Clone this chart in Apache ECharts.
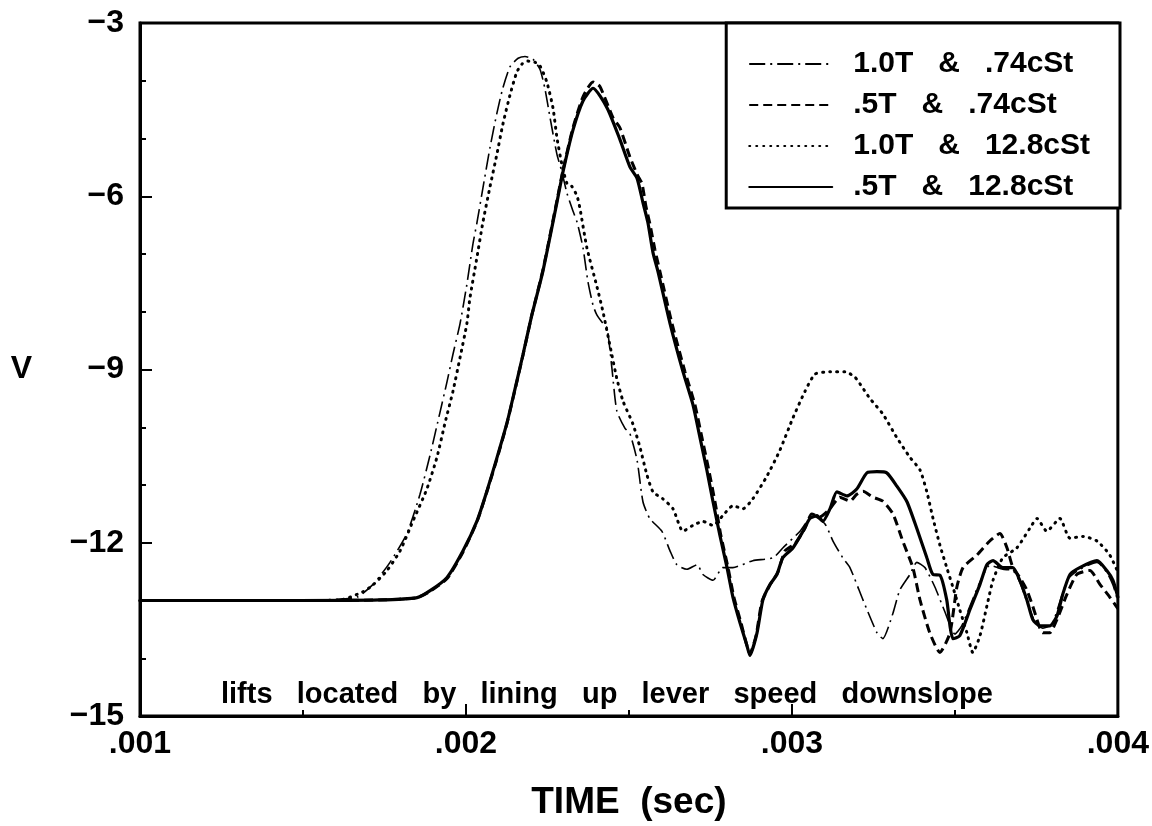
<!DOCTYPE html>
<html>
<head>
<meta charset="utf-8">
<script src="https://cdn.jsdelivr.net/npm/echarts@6/dist/echarts.min.js"></script>
<style>
html,body{margin:0;padding:0;background:#fff;}
#chart{width:1152px;height:826px;}
</style>
</head>
<body>
<div id="chart"></div>
<script>
// ---- data (time in seconds, V) ----
const seriesNames = ['1.0T   &   .74cSt', '.5T   &   .74cSt', '1.0T   &   12.8cSt', '.5T   &   12.8cSt'];

const timeA = [0.001000,0.001491,0.001583,0.001666,0.001715,0.001767,0.001819,0.001859,0.001890,0.001920,0.001942,0.001960,0.001982,0.002003,0.002021,0.002034,0.002052,0.002074,0.002095,0.002113,0.002135,0.002160,0.002181,0.002206,0.002227,0.002242,0.002258,0.002279,0.002294,0.002310,0.002328,0.002341,0.002359,0.002374,0.002390,0.002402,0.002420,0.002433,0.002448,0.002463,0.002488,0.002503,0.002525,0.002543,0.002564,0.002601,0.002626,0.002647,0.002678,0.002709,0.002727,0.002758,0.002788,0.002819,0.002880,0.002942,0.002972,0.003025,0.003064,0.003101,0.003126,0.003156,0.003178,0.003218,0.003261,0.003279,0.003310,0.003331,0.003362,0.003383,0.003408,0.003439,0.003469,0.003500,0.003521,0.003546,0.003577,0.003607,0.003647,0.003678,0.003699,0.003721,0.003745,0.003770,0.003798,0.003822,0.003847,0.003883,0.003936,0.003966,0.003985,0.004000];
const voltA = [-13.00,-13.00,-12.99,-12.94,-12.72,-12.34,-11.84,-11.16,-10.48,-9.75,-9.21,-8.74,-8.20,-7.52,-6.84,-6.45,-5.86,-5.15,-4.56,-4.13,-3.76,-3.61,-3.58,-3.63,-3.80,-4.13,-4.64,-5.27,-5.57,-5.95,-6.25,-6.45,-6.89,-7.47,-7.89,-8.06,-8.20,-8.28,-8.99,-9.72,-10.02,-10.11,-10.57,-11.29,-11.58,-11.80,-12.14,-12.38,-12.46,-12.38,-12.55,-12.65,-12.43,-12.43,-12.31,-12.26,-12.09,-11.80,-11.53,-11.67,-11.97,-12.26,-12.43,-12.99,-13.56,-13.66,-13.22,-12.82,-12.55,-12.34,-12.43,-12.77,-13.19,-13.58,-13.44,-13.10,-12.68,-12.39,-12.46,-12.48,-12.68,-13.02,-13.36,-13.48,-13.41,-13.02,-12.63,-12.46,-12.34,-12.51,-12.73,-13.02];

const timeB = [0.001000,0.001491,0.001736,0.001850,0.001890,0.001942,0.001991,0.002034,0.002064,0.002095,0.002126,0.002150,0.002175,0.002202,0.002236,0.002279,0.002298,0.002328,0.002359,0.002390,0.002411,0.002451,0.002472,0.002503,0.002525,0.002540,0.002552,0.002564,0.002580,0.002595,0.002632,0.002672,0.002702,0.002724,0.002745,0.002764,0.002782,0.002804,0.002822,0.002844,0.002862,0.002871,0.002890,0.002908,0.002933,0.002957,0.002979,0.003009,0.003040,0.003061,0.003086,0.003117,0.003147,0.003178,0.003199,0.003218,0.003248,0.003279,0.003310,0.003340,0.003371,0.003393,0.003423,0.003454,0.003485,0.003506,0.003525,0.003568,0.003607,0.003638,0.003660,0.003678,0.003699,0.003721,0.003739,0.003770,0.003791,0.003813,0.003844,0.003874,0.003914,0.003945,0.003975,0.004000];
const voltB = [-13.00,-13.00,-12.99,-12.95,-12.84,-12.62,-12.16,-11.63,-11.12,-10.55,-9.93,-9.36,-8.75,-8.06,-7.28,-6.08,-5.54,-4.82,-4.28,-4.02,-4.10,-4.64,-4.81,-5.32,-5.62,-5.78,-6.17,-6.47,-6.93,-7.30,-8.20,-9.04,-9.60,-10.18,-10.74,-11.29,-11.87,-12.43,-12.94,-13.39,-13.78,-13.92,-13.61,-13.02,-12.73,-12.51,-12.14,-12.02,-11.75,-11.50,-11.55,-11.41,-11.21,-11.28,-11.16,-11.11,-11.21,-11.28,-11.50,-11.97,-12.43,-12.99,-13.56,-13.90,-13.56,-12.77,-12.43,-12.21,-11.97,-11.84,-12.09,-12.43,-12.60,-12.82,-13.10,-13.56,-13.56,-13.33,-12.89,-12.55,-12.48,-12.72,-12.94,-13.14];

const timeC = [0.001000,0.001491,0.001614,0.001684,0.001715,0.001758,0.001798,0.001837,0.001880,0.001911,0.001936,0.001960,0.001982,0.002003,0.002012,0.002034,0.002052,0.002074,0.002095,0.002113,0.002135,0.002156,0.002172,0.002190,0.002212,0.002227,0.002248,0.002267,0.002279,0.002294,0.002310,0.002325,0.002341,0.002350,0.002371,0.002402,0.002420,0.002442,0.002463,0.002482,0.002512,0.002534,0.002555,0.002574,0.002604,0.002635,0.002666,0.002696,0.002727,0.002758,0.002788,0.002819,0.002850,0.002880,0.002923,0.002963,0.003003,0.003040,0.003071,0.003117,0.003163,0.003193,0.003215,0.003239,0.003279,0.003322,0.003362,0.003393,0.003414,0.003433,0.003454,0.003475,0.003494,0.003515,0.003537,0.003555,0.003577,0.003598,0.003617,0.003647,0.003690,0.003730,0.003752,0.003782,0.003822,0.003853,0.003893,0.003936,0.003975,0.004000];
const voltC = [-13.00,-13.00,-12.99,-12.85,-12.73,-12.48,-12.14,-11.63,-11.07,-10.52,-9.92,-9.38,-8.79,-8.20,-7.77,-7.05,-6.45,-5.83,-5.27,-4.76,-4.25,-3.85,-3.71,-3.66,-3.68,-3.74,-4.02,-4.47,-4.98,-5.44,-5.78,-5.83,-6.00,-6.22,-6.89,-7.57,-7.99,-8.59,-9.16,-9.55,-9.94,-10.35,-10.82,-11.12,-11.24,-11.41,-11.80,-11.70,-11.63,-11.70,-11.53,-11.36,-11.41,-11.24,-10.85,-10.40,-9.84,-9.38,-9.08,-9.04,-9.04,-9.13,-9.30,-9.50,-9.77,-10.18,-10.52,-10.74,-11.12,-11.58,-12.04,-12.43,-12.77,-13.16,-13.56,-13.90,-13.61,-13.10,-12.65,-12.26,-12.09,-11.75,-11.58,-11.80,-11.58,-11.92,-11.89,-11.97,-12.21,-12.51];

const timeD = [0.001000,0.001491,0.001736,0.001850,0.001890,0.001942,0.001991,0.002034,0.002064,0.002095,0.002126,0.002150,0.002175,0.002202,0.002236,0.002279,0.002298,0.002328,0.002359,0.002390,0.002433,0.002472,0.002503,0.002525,0.002543,0.002558,0.002574,0.002589,0.002626,0.002666,0.002696,0.002718,0.002739,0.002758,0.002779,0.002801,0.002819,0.002841,0.002862,0.002871,0.002893,0.002911,0.002933,0.002954,0.002972,0.003003,0.003034,0.003055,0.003077,0.003095,0.003117,0.003138,0.003169,0.003199,0.003230,0.003261,0.003291,0.003322,0.003353,0.003383,0.003414,0.003433,0.003454,0.003475,0.003485,0.003494,0.003515,0.003546,0.003577,0.003598,0.003617,0.003647,0.003678,0.003699,0.003721,0.003739,0.003761,0.003791,0.003813,0.003831,0.003853,0.003883,0.003936,0.003966,0.003985,0.004000];
const voltD = [-13.00,-13.00,-12.99,-12.95,-12.83,-12.60,-12.14,-11.62,-11.11,-10.53,-9.92,-9.35,-8.74,-8.06,-7.30,-6.11,-5.57,-4.86,-4.35,-4.13,-4.47,-5.01,-5.49,-5.69,-6.11,-6.45,-6.98,-7.30,-8.20,-9.04,-9.60,-10.18,-10.74,-11.29,-11.87,-12.43,-12.94,-13.39,-13.78,-13.95,-13.56,-12.99,-12.72,-12.55,-12.26,-12.09,-11.80,-11.58,-11.53,-11.63,-11.41,-11.12,-11.19,-11.07,-10.79,-10.77,-10.79,-11.02,-11.29,-11.75,-12.26,-12.55,-12.56,-12.99,-13.44,-13.66,-13.61,-13.16,-12.72,-12.38,-12.31,-12.43,-12.43,-12.65,-12.99,-13.33,-13.44,-13.44,-13.27,-12.89,-12.55,-12.43,-12.31,-12.48,-12.65,-12.94];

const xTickValues = [0.001, 0.002, 0.003, 0.004];
const yTickValues = [-15, -12, -9, -6, -3];
const annotation = 'lifts   located   by   lining   up   lever   speed   downslope';
const xAxisTitle = 'TIME  (sec)';
const yAxisTitle = 'V';

// ---- chart ----
function zip(t, v) {
  const n = Math.min(t.length, v.length);
  const out = [];
  for (let i = 0; i < n; i++) out.push([t[i], v[i]]);
  return out;
}
const FONT = '"Liberation Sans", Arial, sans-serif';
const chart = echarts.init(document.getElementById('chart'), null, {renderer: 'canvas'});

const styles = [
  {width: 1.6, type: [16, 5, 2, 5], cap: 'butt'},
  {width: 3, type: [9, 5], cap: 'butt'},
  {width: 3, type: [1, 6], cap: 'round'},
  {width: 3.2, type: 'solid', cap: 'round'}
];
const datasets = [zip(timeA, voltA), zip(timeB, voltB), zip(timeC, voltC), zip(timeD, voltD)];

chart.setOption({
  animation: false,
  backgroundColor: '#fff',
  grid: {left: 140, right: 34, top: 23, bottom: 94, show: true, borderColor: '#000', borderWidth: 3, backgroundColor: 'transparent'},
  xAxis: {
    type: 'value', min: xTickValues[0], max: xTickValues[xTickValues.length - 1], interval: 0.001,
    name: xAxisTitle, nameLocation: 'middle', nameGap: 68,
    nameTextStyle: {fontFamily: FONT, fontSize: 37, color: '#000', fontWeight: 'bold'},
    axisLine: {show: true, lineStyle: {color: '#000', width: 3}},
    axisTick: {show: true, inside: true, length: 12, lineStyle: {color: '#000', width: 2}},
    minorTick: {show: true, splitNumber: 2, length: 6, lineStyle: {color: '#000', width: 2}},
    splitLine: {show: false},
    axisLabel: {fontFamily: FONT, fontSize: 32, fontWeight: 'bold', color: '#000', margin: 12,
      formatter: v => '.' + String(Math.round(v * 1000)).padStart(3, '0')}
  },
  yAxis: {
    type: 'value', min: yTickValues[0], max: yTickValues[yTickValues.length - 1], interval: 3,
    name: yAxisTitle, nameLocation: 'middle', nameGap: 108, nameRotate: 0,
    nameTextStyle: {fontFamily: FONT, fontSize: 32, color: '#000', fontWeight: 'bold'},
    axisLine: {show: true, lineStyle: {color: '#000', width: 3}},
    axisTick: {show: true, inside: true, length: 12, lineStyle: {color: '#000', width: 2}},
    minorTick: {show: true, splitNumber: 3, length: 6, lineStyle: {color: '#000', width: 2}},
    splitLine: {show: false},
    axisLabel: {fontFamily: FONT, fontSize: 32, fontWeight: 'bold', color: '#000', margin: 16,
      formatter: v => (v < 0 ? '\u2212' : '') + Math.abs(v)}
  },
  legend: {
    data: seriesNames, orient: 'vertical', right: 32, top: 23,
    backgroundColor: '#fff', borderColor: '#000', borderWidth: 3,
    padding: [26, 30, 6, 22], itemWidth: 83, itemHeight: 14, itemGap: 11,
    selectedMode: false,
    itemStyle: {color: 'transparent', borderColor: 'transparent', borderWidth: 0},
    textStyle: {fontFamily: FONT, fontSize: 30, fontWeight: 'bold', color: '#000', lineHeight: 30, padding: [0, 0, 0, 16]}
  },
  graphic: [{
    type: 'text', left: 221, top: 680,
    style: {text: annotation, font: 'bold 29px ' + FONT, fill: '#000'}
  }],
  series: seriesNames.map((name, i) => ({
    name, type: 'line', data: datasets[i], symbol: 'none', smooth: 0.2,
    lineStyle: Object.assign({color: '#000'}, styles[i]),
    itemStyle: {color: '#000'},
    z: 2 + i
  }))
});
</script>
</body>
</html>
